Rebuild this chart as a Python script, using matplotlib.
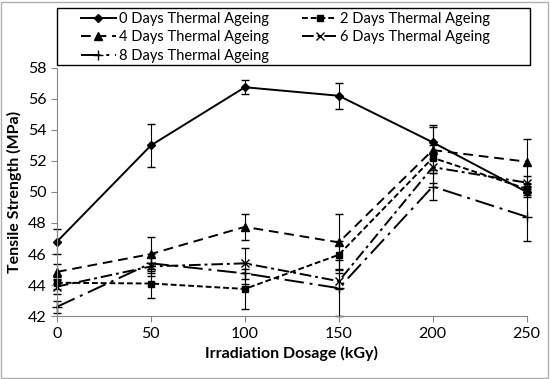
import matplotlib
matplotlib.use("Agg")
import matplotlib.pyplot as plt
from matplotlib.patches import Rectangle

plt.rcParams['font.family'] = ['Lato', 'DejaVu Sans']

# irradiation dose (kGy)
dose = [0, 50, 100, 150, 200, 250]

# tensile strength (MPa) per thermal ageing time
d0 = [46.8, 53.0, 56.75, 56.2, 53.2, 50.0]
d2 = [44.15, 44.1, 43.75, 45.95, 52.2, 50.2]
d4 = [44.85, 46.0, 47.75, 46.75, 52.7, 51.95]
d6 = [43.9, 45.2, 45.4, 44.25, 51.6, 50.6]
d8 = [42.6, 45.4, 44.75, 43.8, 50.35, 48.4]

# error bars (MPa)
e0 = [0.8, 1.4, 0.45, 0.85, 1.1, 0.3]
e2 = [0.4, 0.95, 1.3, 0.9, 0.8, 0.4]
e4 = [0.5, 1.1, 0.85, 1.8, 1.5, 1.45]
e6 = [0.5, 0.6, 1.0, 0.5, 1.0, 0.4]
e8 = [0.4, 0.6, 0.7, 1.8, 0.85, 1.55]

labels = ["0 Days Thermal Ageing", "2 Days Thermal Ageing", "4 Days Thermal Ageing",
          "6 Days Thermal Ageing", "8 Days Thermal Ageing"]

fig = plt.figure(figsize=(5.5, 3.79), dpi=100)
ax = fig.add_axes([0.1036, 0.166, 0.854, 0.655])

styles = [
    dict(ls='-', marker='D', ms=4),
    dict(ls=(0, (3, 1.5)), marker='s', ms=5),
    dict(ls=(0, (5, 3)), marker='^', ms=6),
    dict(ls=(0, (6, 2, 1.5, 2)), marker='x', ms=6, mew=1),
    dict(ls=(0, (10, 3, 1.5, 3)), marker='+', ms=7, mew=1),
]
series = [d0, d2, d4, d6, d8]
errs = [e0, e2, e4, e6, e8]

handles = []
for y, e, st, lab in zip(series, errs, styles, labels):
    h = ax.errorbar(dose, y, yerr=e, color='black', lw=1.4, capsize=3,
                    elinewidth=0.8, ecolor='black', label=lab, **st)
    handles.append(h[0])  # line only, for the legend
for art in ax.lines + ax.collections:
    art.set_clip_on(False)

ax.set_xlim(0, 250)
ax.set_ylim(42, 58)
ax.set_xticks(dose)
ax.set_yticks(range(42, 59, 2))
ax.tick_params(labelsize=11.5, color='#868686', length=4)
for s in ['top', 'right']:
    ax.spines[s].set_visible(False)
for s in ['left', 'bottom']:
    ax.spines[s].set_color('#868686')

ax.set_xlabel("Irradiation Dosage (kGy)", fontsize=11.5, fontweight='bold', labelpad=4)
ax.set_ylabel("Tensile Strength (MPa)", fontsize=11.5, fontweight='bold', labelpad=4)

# legend filled column-first, so reorder to get rows 0/2, 4/6, 8
order = [0, 2, 4, 1, 3]
leg = fig.legend([handles[i] for i in order], [labels[i] for i in order],
                 ncol=2, loc='upper left', bbox_to_anchor=(78 / 550, 1 - 9 / 379),
                 fontsize=10.5, frameon=False, borderpad=0.2, labelspacing=0.3,
                 handlelength=2.4, handletextpad=0.2, columnspacing=2.3,
                 borderaxespad=0)

# legend box
fig.patches.append(Rectangle((0.1036, 1 - 65 / 379), 0.86, 57 / 379,
                             transform=fig.transFigure, fill=False,
                             edgecolor='black', lw=1))
# chart border
fig.patches.append(Rectangle((0.002, 0.003), 0.995, 0.993, transform=fig.transFigure,
                             fill=False, edgecolor='#b0b0b0', lw=1))

fig.savefig("out.png", dpi=100)
